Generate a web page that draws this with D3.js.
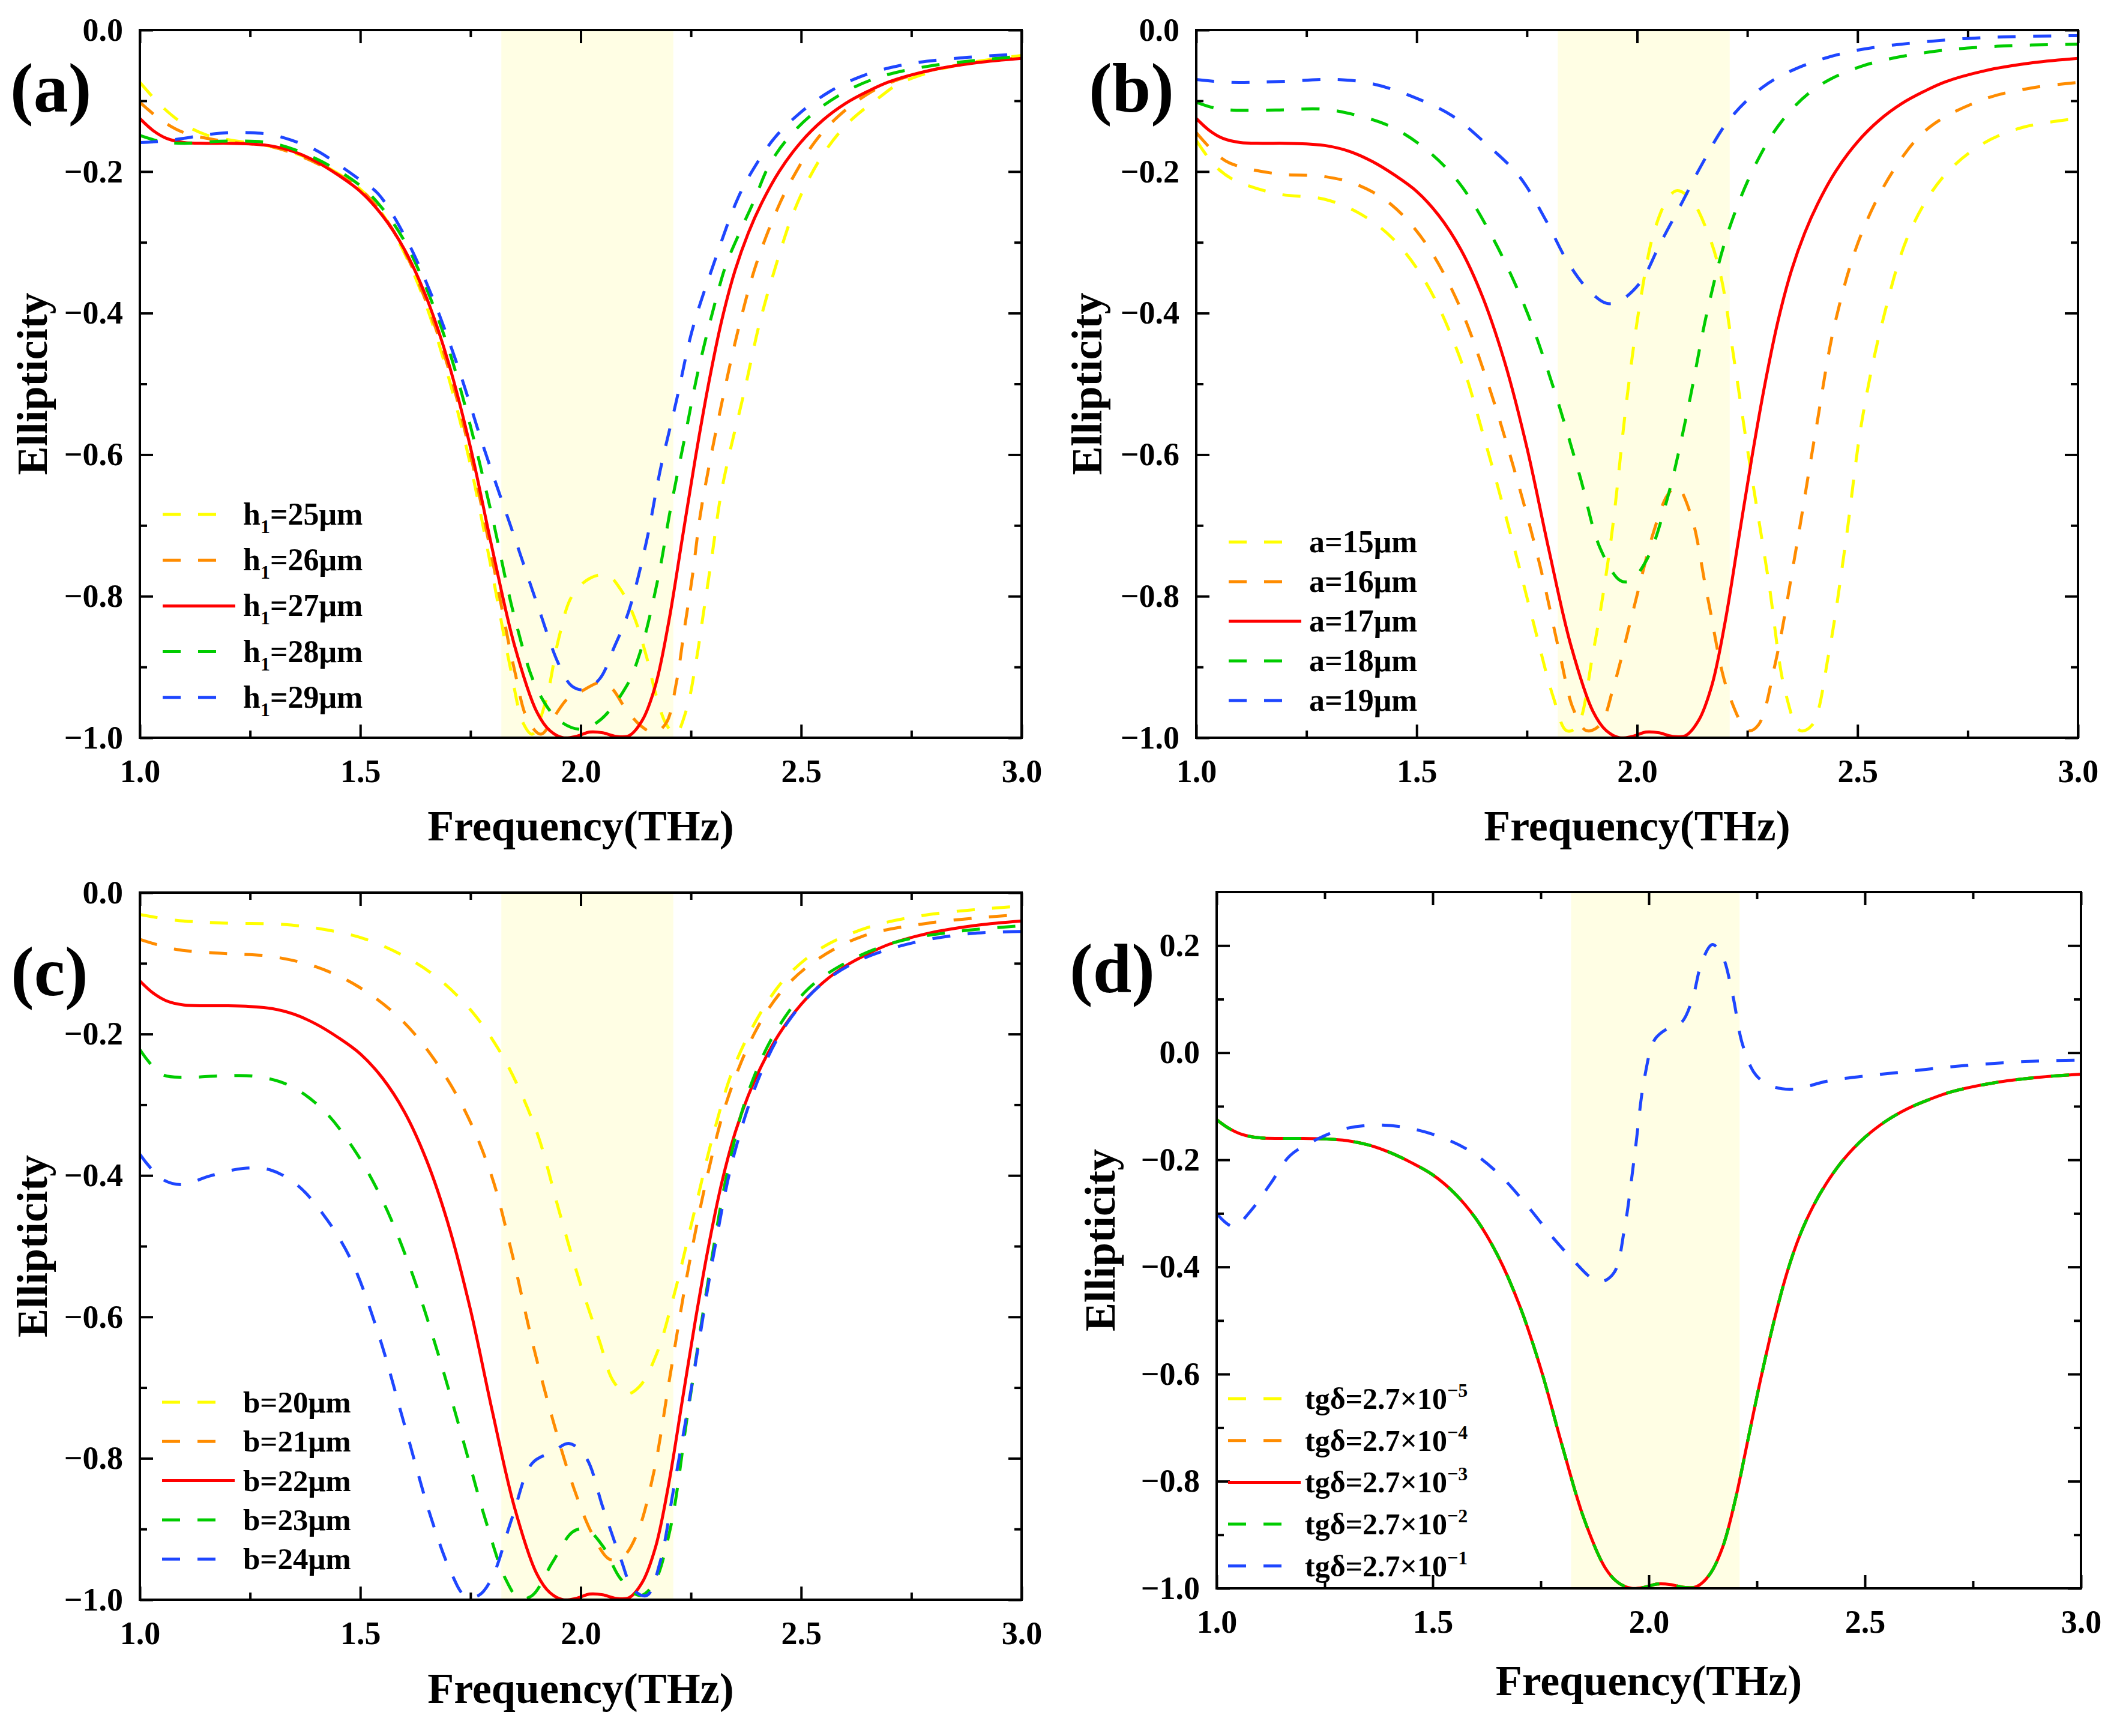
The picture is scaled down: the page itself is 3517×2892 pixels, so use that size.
<!DOCTYPE html>
<html><head><meta charset="utf-8">
<script src="https://cdn.jsdelivr.net/npm/d3@7"></script>
<style>body{margin:0;background:#fff}svg{display:block;background:#fff}</style>
</head><body>
<svg id="chart" width="3517" height="2892"></svg>
<script>
// ---------- DATA ----------
const xTicksMajor = [1.0, 1.5, 2.0, 2.5, 3.0];
const xTicksMinor = [1.25, 1.75, 2.25, 2.75];
const yTicksMajor = [0.0, -0.2, -0.4, -0.6, -0.8, -1.0];
const yTicksMinor = [-0.1, -0.3, -0.5, -0.7, -0.9];
const yTicksMajorD = [0.2, 0.0, -0.2, -0.4, -0.6, -0.8, -1.0];
const yTicksMinorD = [0.1, -0.1, -0.3, -0.5, -0.7, -0.9];
const bandRange = [1.82, 2.21];

const seriesColors = ["#ffff00", "#ff8c00", "#ff0000", "#00cc00", "#1e46ff"];
const seriesDashed = [true, true, false, true, true];

const legendA = ["25μm", "26μm", "27μm", "28μm", "29μm"];      // h1=
const legendB = ["a=15μm", "a=16μm", "a=17μm", "a=18μm", "a=19μm"];
const legendC = ["b=20μm", "b=21μm", "b=22μm", "b=23μm", "b=24μm"];
const legendD = ["−5", "−4", "−3", "−2", "−1"];                  // tgδ=2.7×10^

// reference (red) curve, shared by all panels
const refCurve = [[1.00,-0.125],[1.03,-0.142],[1.06,-0.153],[1.1,-0.159],[1.15,-0.16],[1.2,-0.16],[1.25,-0.161],[1.3,-0.164],[1.35,-0.172],[1.4,-0.186],[1.45,-0.205],[1.5,-0.228],[1.55,-0.262],[1.6,-0.31],[1.65,-0.378],[1.7,-0.47],[1.75,-0.59],[1.8,-0.735],[1.85,-0.87],[1.9,-0.963],[1.93,-0.99],[1.96,-1.0],[1.99,-0.998],[2.02,-0.992],[2.05,-0.993],[2.08,-0.998],[2.11,-0.997],[2.14,-0.975],[2.17,-0.925],[2.2,-0.835],[2.23,-0.72],[2.26,-0.605],[2.29,-0.5],[2.32,-0.41],[2.35,-0.34],[2.38,-0.287],[2.41,-0.245],[2.45,-0.2],[2.5,-0.158],[2.55,-0.127],[2.6,-0.104],[2.65,-0.087],[2.7,-0.073],[2.8,-0.056],[2.9,-0.046],[3.0,-0.04]];

// (a) h1 sweep
const a25 = [[1.0,-0.074],[1.05,-0.108],[1.1,-0.133],[1.15,-0.148],[1.2,-0.155],[1.3,-0.165],[1.4,-0.186],[1.5,-0.225],[1.55,-0.26],[1.6,-0.315],[1.65,-0.39],[1.7,-0.49],[1.75,-0.615],[1.8,-0.77],[1.84,-0.9],[1.87,-0.98],[1.89,-0.995],[1.92,-0.95],[1.95,-0.86],[1.98,-0.8],[2.02,-0.775],[2.06,-0.77],[2.09,-0.79],[2.121,-0.829],[2.149,-0.885],[2.171,-0.94],[2.194,-0.981],[2.215,-0.995],[2.24,-0.96],[2.262,-0.891],[2.28,-0.817],[2.298,-0.742],[2.317,-0.66],[2.335,-0.605],[2.371,-0.511],[2.407,-0.411],[2.453,-0.312],[2.48,-0.262],[2.516,-0.212],[2.557,-0.169],[2.607,-0.131],[2.68,-0.094],[2.725,-0.075],[2.85,-0.05],[3.0,-0.036]];
const a26 = [[1.0,-0.102],[1.05,-0.128],[1.1,-0.145],[1.2,-0.158],[1.3,-0.165],[1.4,-0.188],[1.5,-0.225],[1.55,-0.26],[1.6,-0.312],[1.65,-0.385],[1.7,-0.478],[1.75,-0.6],[1.8,-0.75],[1.85,-0.905],[1.88,-0.975],[1.91,-0.995],[1.94,-0.97],[1.97,-0.945],[2.0,-0.935],[2.044,-0.922],[2.07,-0.93],[2.103,-0.96],[2.14,-0.985],[2.167,-0.993],[2.194,-0.979],[2.217,-0.922],[2.235,-0.847],[2.253,-0.773],[2.271,-0.686],[2.289,-0.623],[2.321,-0.524],[2.357,-0.424],[2.398,-0.331],[2.453,-0.243],[2.489,-0.2],[2.53,-0.159],[2.584,-0.122],[2.657,-0.088],[2.725,-0.069],[2.85,-0.05],[3.0,-0.039]];
const a28 = [[1.0,-0.149],[1.05,-0.158],[1.1,-0.16],[1.2,-0.157],[1.3,-0.16],[1.4,-0.182],[1.5,-0.22],[1.55,-0.252],[1.6,-0.298],[1.65,-0.365],[1.7,-0.45],[1.75,-0.56],[1.8,-0.69],[1.85,-0.83],[1.9,-0.93],[1.95,-0.975],[2.0,-0.988],[2.044,-0.975],[2.103,-0.928],[2.135,-0.879],[2.176,-0.773],[2.203,-0.679],[2.235,-0.579],[2.267,-0.48],[2.307,-0.38],[2.33,-0.331],[2.362,-0.284],[2.394,-0.24],[2.425,-0.194],[2.466,-0.156],[2.525,-0.119],[2.598,-0.088],[2.68,-0.066],[2.8,-0.05],[3.0,-0.037]];
const a29 = [[1.0,-0.159],[1.05,-0.157],[1.1,-0.153],[1.15,-0.148],[1.2,-0.145],[1.25,-0.145],[1.3,-0.148],[1.35,-0.157],[1.4,-0.17],[1.45,-0.19],[1.5,-0.212],[1.54,-0.231],[1.6,-0.29],[1.66,-0.372],[1.72,-0.473],[1.78,-0.59],[1.845,-0.708],[1.905,-0.818],[1.95,-0.896],[1.98,-0.927],[2.01,-0.932],[2.044,-0.916],[2.076,-0.872],[2.108,-0.823],[2.149,-0.723],[2.18,-0.623],[2.217,-0.524],[2.253,-0.424],[2.298,-0.337],[2.357,-0.237],[2.394,-0.194],[2.439,-0.153],[2.494,-0.119],[2.562,-0.088],[2.634,-0.066],[2.725,-0.05],[2.85,-0.04],[3.0,-0.034]];

// (b) a sweep
const b15 = [[1.0,-0.156],[1.04,-0.19],[1.08,-0.21],[1.18,-0.231],[1.29,-0.239],[1.367,-0.258],[1.443,-0.293],[1.52,-0.356],[1.595,-0.458],[1.656,-0.583],[1.718,-0.724],[1.763,-0.833],[1.81,-0.943],[1.84,-0.99],[1.863,-0.985],[1.9,-0.88],[1.94,-0.724],[1.977,-0.52],[2.008,-0.38],[2.038,-0.286],[2.069,-0.239],[2.09,-0.227],[2.122,-0.239],[2.16,-0.286],[2.19,-0.348],[2.22,-0.466],[2.252,-0.599],[2.298,-0.778],[2.336,-0.935],[2.37,-0.99],[2.397,-0.982],[2.435,-0.88],[2.473,-0.724],[2.51,-0.552],[2.557,-0.411],[2.618,-0.286],[2.695,-0.207],[2.786,-0.16],[2.878,-0.137],[3.0,-0.125]];
const b16 = [[1.0,-0.145],[1.04,-0.172],[1.076,-0.188],[1.18,-0.203],[1.29,-0.207],[1.367,-0.219],[1.443,-0.247],[1.52,-0.301],[1.595,-0.387],[1.656,-0.489],[1.718,-0.614],[1.779,-0.755],[1.824,-0.88],[1.855,-0.959],[1.885,-0.99],[1.916,-0.982],[1.947,-0.927],[1.992,-0.818],[2.038,-0.708],[2.069,-0.657],[2.09,-0.645],[2.122,-0.685],[2.16,-0.802],[2.206,-0.935],[2.252,-0.99],[2.275,-0.982],[2.313,-0.896],[2.359,-0.739],[2.405,-0.567],[2.45,-0.411],[2.51,-0.286],[2.588,-0.192],[2.664,-0.137],[2.786,-0.098],[2.893,-0.082],[3.0,-0.074]];
const b18 = [[1.0,-0.102],[1.04,-0.11],[1.076,-0.113],[1.18,-0.113],[1.29,-0.112],[1.367,-0.121],[1.443,-0.137],[1.52,-0.168],[1.595,-0.215],[1.672,-0.293],[1.748,-0.395],[1.81,-0.505],[1.87,-0.63],[1.916,-0.732],[1.962,-0.778],[1.985,-0.778],[2.023,-0.747],[2.069,-0.661],[2.115,-0.536],[2.16,-0.395],[2.206,-0.286],[2.267,-0.192],[2.328,-0.129],[2.405,-0.082],[2.51,-0.051],[2.664,-0.031],[2.817,-0.023],[3.0,-0.02]];
const b19 = [[1.0,-0.07],[1.076,-0.074],[1.18,-0.073],[1.32,-0.07],[1.40,-0.076],[1.49,-0.094],[1.58,-0.121],[1.656,-0.16],[1.733,-0.207],[1.794,-0.27],[1.84,-0.325],[1.885,-0.364],[1.93,-0.386],[1.96,-0.383],[2.008,-0.356],[2.053,-0.301],[2.10,-0.246],[2.145,-0.192],[2.206,-0.129],[2.282,-0.082],[2.359,-0.055],[2.48,-0.031],[2.664,-0.016],[2.817,-0.01],[3.0,-0.008]];

// (c) b sweep
const c20 = [[1.0,-0.031],[1.08,-0.039],[1.188,-0.043],[1.325,-0.045],[1.417,-0.052],[1.508,-0.065],[1.6,-0.09],[1.676,-0.121],[1.753,-0.168],[1.814,-0.222],[1.86,-0.277],[1.905,-0.347],[1.95,-0.448],[1.997,-0.549],[2.043,-0.635],[2.073,-0.69],[2.104,-0.709],[2.134,-0.698],[2.173,-0.651],[2.21,-0.573],[2.256,-0.456],[2.302,-0.339],[2.348,-0.246],[2.41,-0.168],[2.47,-0.117],[2.547,-0.078],[2.653,-0.049],[2.79,-0.031],[3.0,-0.019]];
const c21 = [[1.0,-0.066],[1.08,-0.08],[1.188,-0.086],[1.295,-0.09],[1.4,-0.105],[1.493,-0.132],[1.585,-0.175],[1.661,-0.23],[1.737,-0.308],[1.798,-0.401],[1.844,-0.51],[1.89,-0.635],[1.936,-0.744],[1.982,-0.838],[2.027,-0.908],[2.066,-0.943],[2.096,-0.939],[2.127,-0.908],[2.165,-0.822],[2.203,-0.682],[2.241,-0.542],[2.287,-0.401],[2.333,-0.292],[2.394,-0.199],[2.455,-0.14],[2.531,-0.097],[2.638,-0.062],[2.79,-0.043],[3.0,-0.031]];
const c23 = [[1.0,-0.222],[1.05,-0.257],[1.111,-0.261],[1.188,-0.259],[1.264,-0.26],[1.34,-0.273],[1.417,-0.308],[1.493,-0.37],[1.554,-0.44],[1.615,-0.534],[1.676,-0.651],[1.737,-0.783],[1.783,-0.885],[1.829,-0.97],[1.86,-0.998],[1.89,-0.994],[1.936,-0.947],[1.982,-0.904],[2.012,-0.9],[2.05,-0.924],[2.09,-0.97],[2.134,-0.994],[2.165,-0.978],[2.203,-0.9],[2.241,-0.744],[2.287,-0.557],[2.333,-0.394],[2.379,-0.284],[2.44,-0.199],[2.516,-0.136],[2.608,-0.097],[2.715,-0.07],[2.853,-0.055],[3.0,-0.047]];
const c24 = [[1.0,-0.37],[1.05,-0.405],[1.096,-0.413],[1.157,-0.401],[1.234,-0.39],[1.295,-0.392],[1.356,-0.413],[1.417,-0.456],[1.478,-0.518],[1.539,-0.62],[1.6,-0.752],[1.661,-0.885],[1.707,-0.963],[1.737,-0.994],[1.768,-0.994],[1.798,-0.97],[1.844,-0.885],[1.89,-0.807],[1.936,-0.791],[1.974,-0.779],[2.012,-0.799],[2.05,-0.869],[2.089,-0.939],[2.12,-0.986],[2.15,-0.994],[2.18,-0.947],[2.21,-0.846],[2.256,-0.682],[2.302,-0.51],[2.348,-0.37],[2.41,-0.253],[2.47,-0.183],[2.547,-0.129],[2.638,-0.094],[2.76,-0.07],[2.884,-0.058],[3.0,-0.055]];

// (d) loss tangent sweep (first four overlap the reference curve)
const d5 = refCurve;
const d4 = refCurve;
const d3c = refCurve;
const d2 = refCurve;
const d1 = [[1.0,-0.3],[1.039,-0.325],[1.078,-0.296],[1.125,-0.244],[1.17,-0.192],[1.234,-0.161],[1.296,-0.142],[1.374,-0.135],[1.452,-0.142],[1.53,-0.161],[1.593,-0.187],[1.655,-0.228],[1.718,-0.285],[1.78,-0.347],[1.827,-0.389],[1.866,-0.42],[1.889,-0.428],[1.92,-0.41],[1.944,-0.327],[1.967,-0.192],[1.99,-0.047],[2.014,0.025],[2.045,0.046],[2.076,0.057],[2.1,0.098],[2.123,0.17],[2.147,0.202],[2.17,0.181],[2.194,0.108],[2.217,0.015],[2.248,-0.042],[2.287,-0.063],[2.334,-0.068],[2.42,-0.052],[2.576,-0.037],[2.732,-0.024],[2.888,-0.016],[3.0,-0.014]];

// ---------- LAYOUT ----------
const FONT = "'Liberation Serif','Times New Roman',Times,serif";
const panels = [
  {tag:"(a)", box:[233,50,1702,1229], ydom:[-1,0], yMaj:yTicksMajor, yMin:yTicksMinor,
   series:[a25,a26,refCurve,a28,a29], legend:legendA, legType:"h",
   leg:{x:271, y0:857, dy:76.2, tx:405, fs:52}, tagPos:[17,186], yTitleX:78, xTitleDy:171},
  {tag:"(b)", box:[1993,50,3462,1229], ydom:[-1,0], yMaj:yTicksMajor, yMin:yTicksMinor,
   series:[b15,b16,refCurve,b18,b19], legend:legendB, legType:"plain",
   leg:{x:2047, y0:903, dy:66, tx:2181, fs:52}, tagPos:[1814,186], yTitleX:1835, xTitleDy:171},
  {tag:"(c)", box:[233,1487,1702,2665], ydom:[-1,0], yMaj:yTicksMajor, yMin:yTicksMinor,
   series:[c20,c21,refCurve,c23,c24], legend:legendC, legType:"plain",
   leg:{x:270, y0:2336, dy:65.3, tx:405, fs:51}, tagPos:[18,1658], yTitleX:78, xTitleDy:172},
  {tag:"(d)", box:[2027,1486,3467,2646], ydom:[-1,0.3], yMaj:yTicksMajorD, yMin:yTicksMinorD,
   series:[d5,d4,d3c,d2,d1], legend:legendD, legType:"tg",
   leg:{x:2046, y0:2330, dy:69.7, tx:2174, fs:50}, tagPos:[1782,1653], yTitleX:1857, xTitleDy:178}
];

const svg = d3.select("#chart");
const fmt = d3.format(".1f");

panels.forEach((p, pi) => {
  const [x0, y0, x1, y1] = p.box;
  const x = d3.scaleLinear().domain([1, 3]).range([x0, x1]);
  const y = d3.scaleLinear().domain(p.ydom).range([y1, y0]);
  const g = svg.append("g");

  const clipId = "clip" + pi;
  svg.append("clipPath").attr("id", clipId).append("rect")
    .attr("x", x0).attr("y", y0).attr("width", x1 - x0).attr("height", y1 - y0);

  // shaded band
  g.append("rect").attr("x", x(bandRange[0])).attr("y", y0)
    .attr("width", x(bandRange[1]) - x(bandRange[0])).attr("height", y1 - y0)
    .attr("fill", "#fffee4");

  // curves
  const line = d3.line().x(d => x(d[0])).y(d => y(d[1])).curve(d3.curveCatmullRom.alpha(0.5));
  const cg = g.append("g").attr("clip-path", `url(#${clipId})`);
  p.series.forEach((s, i) => {
    cg.append("path").attr("d", line(s)).attr("fill", "none")
      .attr("stroke", seriesColors[i]).attr("stroke-width", 5)
      .attr("stroke-dasharray", seriesDashed[i] ? "30,29" : null)
      .attr("stroke-linejoin", "round");
  });

  // axes (ticks inside, mirrored)
  const axStyle = sel => {
    sel.select(".domain").remove();
    sel.selectAll(".tick line").attr("stroke", "#000").attr("stroke-width", 4);
    sel.selectAll("text").attr("font-family", FONT).attr("font-weight", "bold")
      .attr("font-size", 54).attr("fill", "#000");
  };
  const bottom = g.append("g").attr("transform", `translate(0,${y1})`)
    .call(d3.axisBottom(x).tickValues(xTicksMajor).tickSize(-22).tickPadding(36).tickFormat(fmt));
  axStyle(bottom);
  bottom.selectAll("text").attr("dy", "0.71em");
  g.append("g").attr("transform", `translate(0,${y1})`)
    .call(d3.axisBottom(x).tickValues(xTicksMinor).tickSize(-12).tickFormat(""))
    .call(axStyle);
  g.append("g").attr("transform", `translate(0,${y0})`)
    .call(d3.axisTop(x).tickValues(xTicksMajor).tickSize(-22).tickFormat(""))
    .call(axStyle);
  g.append("g").attr("transform", `translate(0,${y0})`)
    .call(d3.axisTop(x).tickValues(xTicksMinor).tickSize(-12).tickFormat(""))
    .call(axStyle);
  const left = g.append("g").attr("transform", `translate(${x0},0)`)
    .call(d3.axisLeft(y).tickValues(p.yMaj).tickSize(-22).tickPadding(28).tickFormat(fmt));
  axStyle(left);
  g.append("g").attr("transform", `translate(${x0},0)`)
    .call(d3.axisLeft(y).tickValues(p.yMin).tickSize(-12).tickFormat(""))
    .call(axStyle);
  g.append("g").attr("transform", `translate(${x1},0)`)
    .call(d3.axisRight(y).tickValues(p.yMaj).tickSize(-22).tickFormat(""))
    .call(axStyle);
  g.append("g").attr("transform", `translate(${x1},0)`)
    .call(d3.axisRight(y).tickValues(p.yMin).tickSize(-12).tickFormat(""))
    .call(axStyle);

  // frame
  g.append("rect").attr("x", x0).attr("y", y0).attr("width", x1 - x0).attr("height", y1 - y0)
    .attr("fill", "none").attr("stroke", "#000").attr("stroke-width", 4);

  // titles
  g.append("text").attr("x", (x0 + x1) / 2).attr("y", y1 + p.xTitleDy)
    .attr("text-anchor", "middle").attr("font-family", FONT).attr("font-weight", "bold")
    .attr("font-size", 72).text("Frequency(THz)");
  g.append("text").attr("transform", `translate(${p.yTitleX},${(y0 + y1) / 2}) rotate(-90)`)
    .attr("text-anchor", "middle").attr("font-family", FONT).attr("font-weight", "bold")
    .attr("font-size", 72).text("Ellipticity");
  g.append("text").attr("x", p.tagPos[0]).attr("y", p.tagPos[1])
    .attr("font-family", FONT).attr("font-weight", "bold").attr("font-size", 116).text(p.tag);

  // legend
  const L = p.leg;
  p.legend.forEach((lab, i) => {
    const ly = L.y0 + i * L.dy;
    g.append("line").attr("x1", L.x).attr("x2", L.x + (seriesDashed[i] ? 90 : 121))
      .attr("y1", ly).attr("y2", ly).attr("stroke", seriesColors[i]).attr("stroke-width", 5)
      .attr("stroke-dasharray", seriesDashed[i] ? "30,29" : null);
    const t = g.append("text").attr("x", L.tx).attr("y", ly + 17)
      .attr("font-family", FONT).attr("font-weight", "bold").attr("font-size", L.fs);
    if (p.legType === "h") {
      t.append("tspan").text("h");
      t.append("tspan").attr("font-size", 32).attr("dy", 14).text("1");
      t.append("tspan").attr("dy", -14).text("=" + lab);
    } else if (p.legType === "tg") {
      t.append("tspan").text("tgδ=2.7×10");
      t.append("tspan").attr("font-size", 32).attr("dy", -20).text(lab);
    } else {
      t.text(lab);
    }
  });
});
</script>
</body></html>
